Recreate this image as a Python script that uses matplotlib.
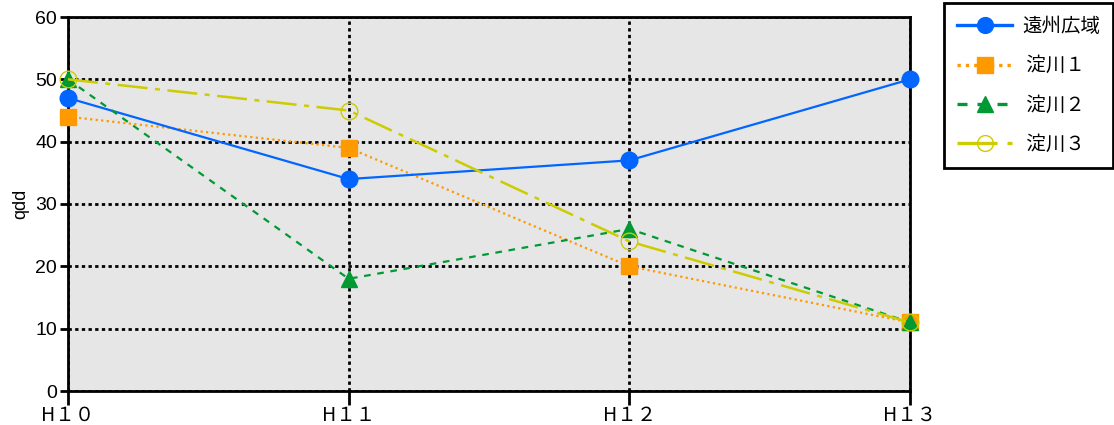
import matplotlib
matplotlib.use('Agg')
import matplotlib.pyplot as plt

years = ['H１０', 'H１１', 'H１２', 'H１３']
enshu = [47, 34, 37, 50]
yodo1 = [44, 39, 20, 11]
yodo2 = [50, 18, 26, 11]
yodo3 = [50, 45, 24, 11]
names = ['遠州広域', ' 淀川１', ' 淀川２', ' 淀川３']

plt.rcParams['font.family'] = ['Liberation Sans', 'Noto Sans CJK JP', 'DejaVu Sans']

fig = plt.figure(figsize=(11.14, 4.25), dpi=100)
ax = fig.add_axes([68/1114, 1-391/425, (910-68)/1114, (391-17)/425])
ax.set_facecolor('#e6e6e6')

x = range(len(years))
ax.plot(x, enshu, color='#0066ff', lw=1.6, ls='-', marker='o', ms=12, label=names[0], clip_on=False, zorder=5)
ax.plot(x, yodo1, color='#ff9900', lw=1.6, ls=(0, (1, 1.5)), marker='s', ms=12, label=names[1], clip_on=False, zorder=4)
ax.plot(x, yodo2, color='#009933', lw=1.6, ls=(0, (3, 3)), marker='^', ms=12, label=names[2], clip_on=False, zorder=6)
ax.plot(x, yodo3, color='#cccc00', lw=1.8, ls=(0, (12, 3, 2, 3)), marker='o', ms=12, mfc='none', mec='#cccc00',
        label=names[3], clip_on=False, zorder=7)

ax.set_xlim(0, 3)
ax.set_ylim(0, 60)
ax.set_xticks(list(x))
ax.set_xticklabels(years, fontsize=14, family=['Noto Sans CJK JP', 'DejaVu Sans'])
ax.set_yticks(range(0, 61, 10))
ax.tick_params(axis='y', labelsize=14, length=6, width=2, direction='out', pad=2)
ax.tick_params(axis='x', length=10, width=2, direction='out', pad=0)
ax.grid(True, color='black', ls=(0, (1.2, 1.2)), lw=2)
ax.set_axisbelow(True)
for s in ax.spines.values():
    s.set_linewidth(2)
ax.set_ylabel('qdd', fontsize=13, labelpad=4)

leg = fig.legend(loc='upper left', bbox_to_anchor=(944/1114, 1-3/425), borderaxespad=0,
                 prop={'family': ['Noto Sans CJK JP', 'DejaVu Sans'], 'size': 14},
                 frameon=True, fancybox=False, edgecolor='black', framealpha=1, handlelength=2.85,
                 labelspacing=0.95, borderpad=0.66, handletextpad=0.5, markerscale=0.95)
leg.get_frame().set_linewidth(2)
for h in leg.get_lines():
    h.set_linewidth(2.4)

fig.savefig('out.png', dpi=100)
